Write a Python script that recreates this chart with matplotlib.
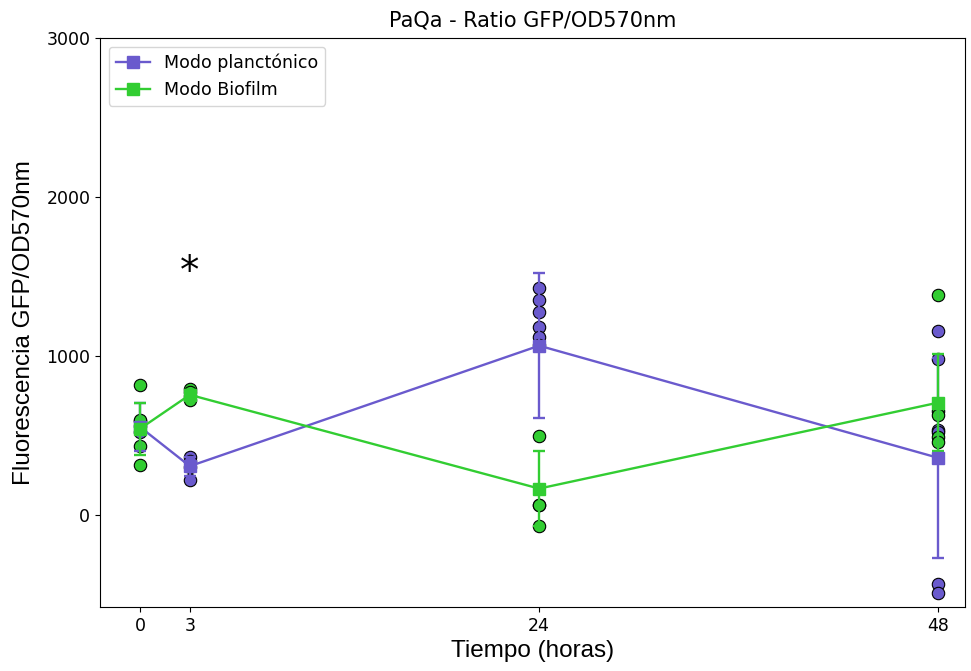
import matplotlib
matplotlib.use("Agg")
import matplotlib.pyplot as plt
from matplotlib.lines import Line2D
import numpy as np

# ---- data ----
times = [0, 3, 24, 48]
series_names = ["Modo planctónico", "Modo Biofilm"]
series_colors = ["#6A5ACD", "#32CD32"]

plank_points = [[590, 560, 520], [362, 340, 300, 222],
                [1426, 1352, 1279, 1184, 1121, 1069, 63],
                [1157, 981, 535, 518, -434, -489]]
plank_mean = [553, 306, 1064, 358]
plank_sd = [150, 60, 456, 628]

bio_points = [[817, 597, 434, 314], [790, 775, 745, 720],
              [497, 63, -69],
              [1384, 656, 629, 492, 455]]
bio_mean = [541, 755, 165, 706]
bio_sd = [163, 30, 235, 307]

xticks = [0, 3, 24, 48]
title = "PaQa - Ratio GFP/OD570nm"
xlabel = "Tiempo (horas)"
ylabel = "Fluorescencia GFP/OD570nm"
star_pos = (3, 1530)

fig = plt.figure(figsize=(9.71, 6.71), dpi=100)
ax = fig.add_axes([0.103, 0.0954, 0.8908, 0.848])

all_points = [plank_points, bio_points]
all_mean = [plank_mean, bio_mean]
all_sd = [plank_sd, bio_sd]

for pts, col in zip(all_points, series_colors):
    for t, vals in zip(times, pts):
        ax.scatter([t] * len(vals), vals, s=80, color=col, edgecolor="black",
                   linewidth=0.8, zorder=2)

handles = []
for name, col, m, sd in zip(series_names, series_colors, all_mean, all_sd):
    ax.errorbar(times, m, yerr=sd, color=col, marker="s", markersize=8.5,
                linewidth=1.7, elinewidth=1.7, capsize=4, capthick=1.7,
                zorder=3)
    handles.append(Line2D([], [], color=col, marker="s", markersize=8.5,
                          linewidth=1.7, label=name))

ax.text(star_pos[0], star_pos[1], "*", fontsize=28, ha="center", va="center")

ax.set_xticks(xticks)
ax.set_xlim(-2.4, 49.6)
ax.set_ylim(-580, 3000)
ax.set_yticks([0, 1000, 2000, 3000])
ax.tick_params(labelsize=12.5)
ax.set_title(title, fontsize=15, pad=8)
ax.set_xlabel(xlabel, fontsize=17.5, family=["Liberation Sans", "DejaVu Sans"])
ax.set_ylabel(ylabel, fontsize=17.5, family=["Liberation Sans", "DejaVu Sans"],
              labelpad=8)
ax.legend(handles=handles, loc="upper left", fontsize=12.5)

fig.savefig("out.png", dpi=100)
